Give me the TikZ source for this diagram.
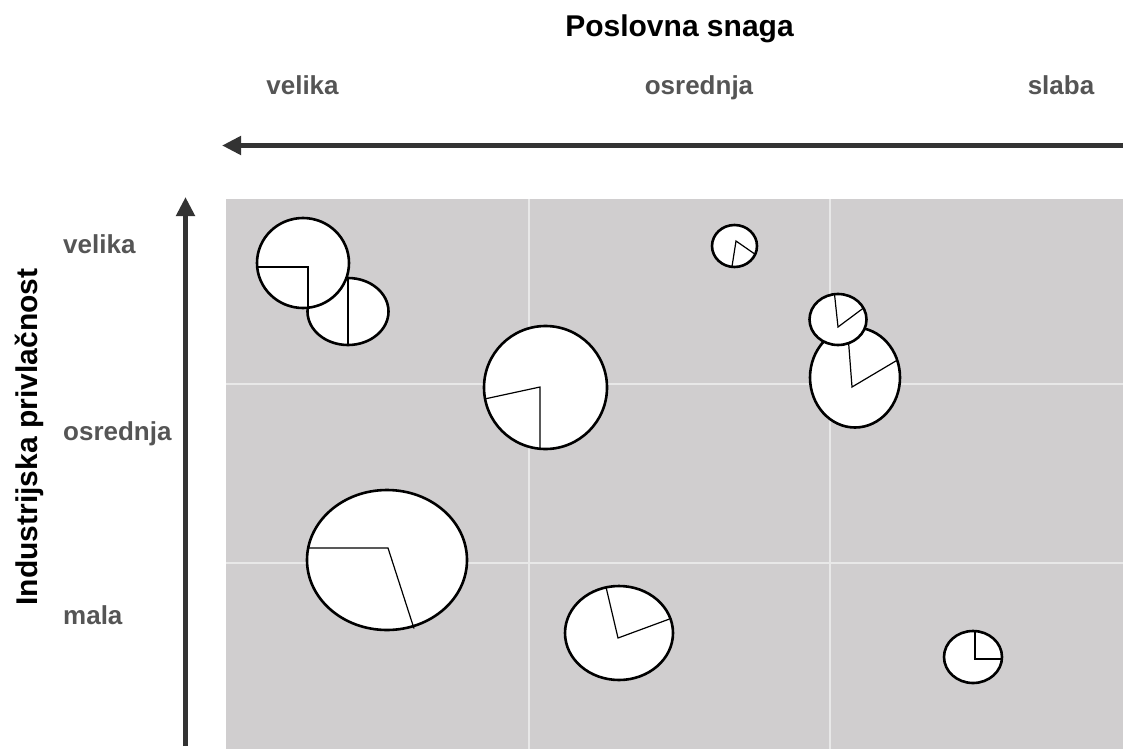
\documentclass[tikz,border=0pt]{standalone}
\usepackage{fontspec}
\setmainfont{Liberation Sans}
\usetikzlibrary{arrows.meta}
\definecolor{cellgray}{RGB}{208,206,207}
\definecolor{gridline}{RGB}{232,232,232}
\definecolor{axisdark}{RGB}{51,51,51}
\definecolor{labelgray}{RGB}{85,85,85}
\tikzset{
  title/.style={font=\fontsize{30}{30}\selectfont\bfseries, text=black, inner sep=0pt, anchor=base},
  lvl/.style={font=\fontsize{26}{26}\selectfont\bfseries, text=labelgray, inner sep=0pt, anchor=base},
  axisarrow/.style={draw=axisdark, line width=5pt, -{Triangle[length=19pt,width=18pt]}, fill=axisdark},
  bubble/.style={fill=white, draw=black, line width=2.6pt},
  pieline/.style={draw=black, line width=1.2pt},
  gridl/.style={draw=gridline, line width=1.5pt}
}
\begin{document}
\begin{tikzpicture}[x=1pt,y=-1pt]
\useasboundingbox (0,0) rectangle (1123,749);
% background field
\fill[cellgray] (226,199) rectangle (1123,749);
\draw[gridl] (529,199) -- (529,749);
\draw[gridl] (830,199) -- (830,749);
\draw[gridl] (226,384) -- (1123,384);
\draw[gridl] (226,563) -- (1123,563);
% axes
\coordinate (hstart) at (1123,145.5);
\coordinate (hend) at (222,145.5);
\coordinate (vstart) at (185.5,746);
\coordinate (vend) at (185.5,197);
\draw[axisarrow] (hstart) -- (hend);
\draw[axisarrow] (vstart) -- (vend);
% titles
\node[title] (xtitle) at (679.5,37) {Poslovna snaga};
\node[title, rotate=90] (ytitle) at (37,437) {Industrijska privlačnost};
\node[lvl] (xv) at (302.5,95) {velika};
\node[lvl] (xo) at (699,95) {osrednja};
\node[lvl] (xs) at (1061,95) {slaba};
\node[lvl, anchor=base west] (yv) at (63,253) {velika};
\node[lvl, anchor=base west] (yo) at (63,440) {osrednja};
\node[lvl, anchor=base west] (ym) at (63,624) {mala};
% bubble 2 (behind bubble 1)
\filldraw[bubble] (348,311.5) ellipse [x radius=40.5, y radius=33.5];
\draw[pieline] (348,278) -- (348,345);
% bubble 1
\filldraw[bubble] (303,263) ellipse [x radius=46, y radius=45];
\draw[pieline] (257.2,267) -- (308,267) -- (308,307.7);
% bubble 3
\filldraw[bubble] (734.5,246) ellipse [x radius=22.5, y radius=21];
\draw[pieline] (732,266.5) -- (736,241) -- (754,253.5);
% bubble 5 (behind bubble 4)
\filldraw[bubble] (855,377.5) ellipse [x radius=45, y radius=50];
\draw[pieline] (848,335) -- (852,387) -- (897.5,360);
% bubble 4
\filldraw[bubble] (838,319.5) ellipse [x radius=28.5, y radius=25.5];
\draw[pieline] (834.5,294.2) -- (838,327) -- (863.5,308);
% bubble 6
\filldraw[bubble] (545.5,387.5) ellipse [x radius=61.5, y radius=61.5];
\draw[pieline] (484.5,399) -- (540,387) -- (540,448.8);
% bubble 7
\filldraw[bubble] (387,560) ellipse [x radius=80, y radius=70];
\draw[pieline] (307.8,548) -- (388,548) -- (414,628.5);
% bubble 8
\filldraw[bubble] (619,633) ellipse [x radius=54, y radius=47];
\draw[pieline] (606,587) -- (618,638) -- (669.5,619);
% bubble 9
\filldraw[bubble] (973,657) ellipse [x radius=29, y radius=26];
\draw[pieline] (975,631) -- (975,659) -- (1001.8,659);
\end{tikzpicture}
\end{document}
